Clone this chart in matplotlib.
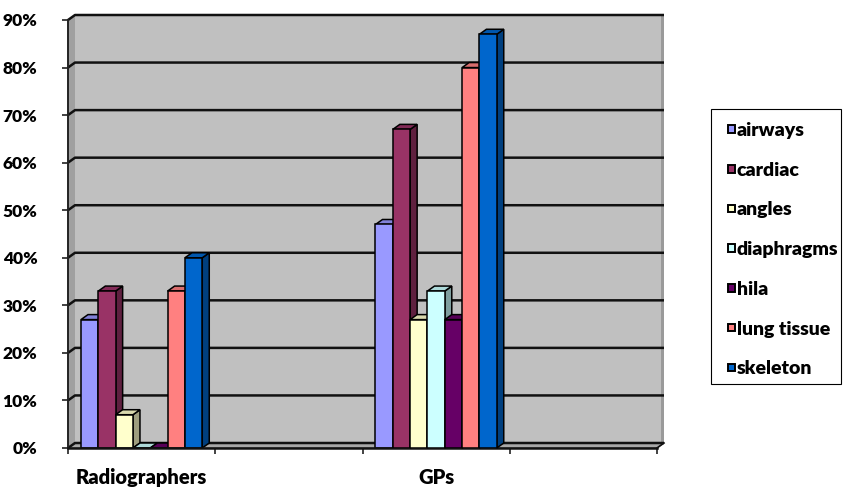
import matplotlib
matplotlib.use("Agg")
import matplotlib.pyplot as plt
from matplotlib.patches import Polygon, Rectangle
import numpy as np

plt.rcParams['font.family'] = ['Lato', 'DejaVu Sans']
plt.rcParams['font.weight'] = 'heavy'

# ---- data ----
categories = ["Radiographers", "", "GPs", ""]
series = ["airways", "cardiac", "angles", "diaphragms", "hila", "lung tissue", "skeleton"]
radiographers = [0.27, 0.33, 0.07, 0.0, 0.0, 0.33, 0.40]
gps = [0.47, 0.67, 0.27, 0.33, 0.27, 0.80, 0.87]
values = [radiographers, [None] * 7, gps, [None] * 7]
colors = ["#9999FF", "#993366", "#FFFFCC", "#CCFFFF", "#660066", "#FF8080", "#0066CC"]
yticks = [0.0, 0.1, 0.2, 0.3, 0.4, 0.5, 0.6, 0.7, 0.8, 0.9]

W, H = 847, 487
fig = plt.figure(figsize=(W / 100, H / 100), dpi=100)
left_px, right_px, bottom_px, top_px = 68, 657, 448, 20
ax = fig.add_axes([left_px / W, (H - bottom_px) / H,
                   (right_px - left_px) / W, (bottom_px - top_px) / H])
ncat = len(categories)
ymax = 0.9
ax.set_xlim(0, ncat)
ax.set_ylim(0, ymax)
for s in ax.spines.values():
    s.set_visible(False)
ax.set_facecolor("none")

# depth offset of the 3-D box, in data units
dx = 7 * ncat / (right_px - left_px)
dy = 5 * ymax / (bottom_px - top_px)


def shade(c, f):
    rgb = np.array(matplotlib.colors.to_rgb(c))
    return tuple(rgb * f)


# back wall
ax.add_patch(Rectangle((dx, dy), ncat, ymax, facecolor="#C0C0C0",
                       edgecolor="none", zorder=0, clip_on=False))
# right edge strip of wall
ax.add_patch(Rectangle((ncat + dx - 0.02, dy), 0.02, ymax, facecolor="#9A9A9A",
                       edgecolor="none", zorder=0.5, clip_on=False))
# left wall
ax.add_patch(Polygon([(0, 0), (dx, dy), (dx, ymax + dy), (0, ymax)],
                     facecolor="#A0A0A0", edgecolor="none", zorder=0, clip_on=False))
# floor
ax.add_patch(Polygon([(0, 0), (ncat, 0), (ncat + dx, dy), (dx, dy)],
                     facecolor="#A8A8A8", edgecolor="#555555", lw=0.8,
                     zorder=0.6, clip_on=False))

# gridlines on the walls
for v in yticks:
    ax.plot([0, dx, ncat + dx], [v, v + dy, v + dy], color="#111111",
            lw=1.8, zorder=1, clip_on=False, solid_capstyle="butt")

# front axis lines
ax.plot([0, 0], [0, ymax], color="#222222", lw=1.4, zorder=1.2, clip_on=False)
ax.plot([0, ncat], [0, 0], color="#111111", lw=1.8, zorder=10, clip_on=False)
ax.plot([ncat, ncat + dx], [0, dy], color="#111111", lw=1.2, zorder=10, clip_on=False)

# 3-D columns
bw = 1 / 8.5
z = 2
for ci, vals in enumerate(values):
    start = ci + (1 - len(series) * bw) / 2
    for j, v in enumerate(vals):
        if v is None:
            continue
        x0 = start + j * bw
        x1 = x0 + bw
        c = colors[j]
        ax.bar(x0, v, width=bw, align="edge", color=c, edgecolor="black",
               lw=1.1, zorder=z + 0.2)
        ax.add_patch(Polygon([(x1, 0), (x1 + dx, dy), (x1 + dx, v + dy), (x1, v)],
                             facecolor=shade(c, 0.62), edgecolor="black", lw=1.1,
                             zorder=z, clip_on=False))
        ax.add_patch(Polygon([(x0, v), (x1, v), (x1 + dx, v + dy), (x0 + dx, v + dy)],
                             facecolor=shade(c, 0.85), edgecolor="black", lw=1.1,
                             zorder=z + 0.1, clip_on=False))
        z += 1

# ticks and labels
ax.set_yticks(yticks)
ax.set_yticklabels([f"{int(round(t * 100))}%" for t in yticks])
ax.tick_params(axis="y", length=4.5, width=1.2, pad=17.5, labelsize=12.5, color="#222222")
ax.set_xticks(range(ncat + 1))
ax.set_xticklabels([])
ax.tick_params(axis="x", length=4.5, width=1.2, color="#222222")
for i, name in enumerate(categories):
    if name:
        ax.text(i + 0.5, -0.043, name, ha="center", va="top",
                fontsize=14.5, fontweight="heavy")
for lab in ax.get_yticklabels():
    lab.set_fontweight("heavy")

# legend box with colour keys
def fx(px):
    return px / W


def fy(py):
    return 1 - py / H


fig.patches.append(Rectangle((fx(711), fy(384)), fx(841) - fx(711), fy(109) - fy(384),
                             transform=fig.transFigure, facecolor="white",
                             edgecolor="black", lw=0.8, zorder=1))
for i, (name, c) in enumerate(zip(series, colors)):
    yc = 129 + i * 39.7
    fig.patches.append(Rectangle((fx(727.5), fy(yc + 3.8)), fx(7.5), 7.5 / H,
                                 transform=fig.transFigure, facecolor=c,
                                 edgecolor="black", lw=1.4, zorder=2))
    fig.text(fx(736.5), fy(yc), name, ha="left", va="center_baseline",
             fontsize=14, fontweight="heavy", zorder=3)

fig.savefig("out.png", dpi=100)
